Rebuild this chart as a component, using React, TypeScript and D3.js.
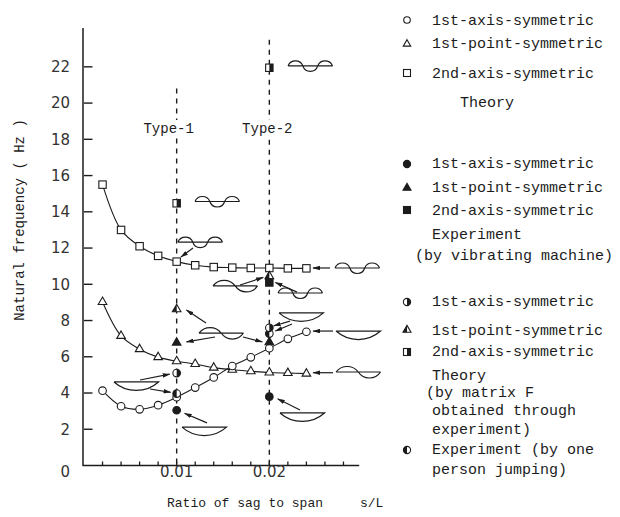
import React from "react";
import * as d3 from "d3";

// Sag-to-span ratios used for the theoretical curves
const sagRatio = [0.002, 0.004, 0.006, 0.008, 0.01, 0.012, 0.014, 0.016, 0.018, 0.02, 0.022, 0.024];
// Theory (Hz)
const axisSymTheory = [4.13, 3.27, 3.1, 3.33, 3.77, 4.3, 4.86, 5.49, 5.97, 6.47, 6.99, 7.38];
const pointSymTheory = [9.02, 7.15, 6.42, 5.98, 5.75, 5.6, 5.4, 5.28, 5.2, 5.13, 5.1, 5.07];
const axis2SymTheory = [15.5, 13.0, 12.1, 11.57, 11.25, 11.05, 10.95, 10.92, 10.9, 10.9, 10.88, 10.88];

// Experiment by vibrating machine
const vibAxisRatio = [0.01, 0.02];
const vibAxisSym = [3.05, 3.8];
const vibPointRatio = [0.01, 0.02];
const vibPointSym = [6.78, 6.8];
const vibAxis2Ratio = [0.02];
const vibAxis2Sym = [10.1];

// Theory by matrix F obtained through experiment
const matAxisRatio = [0.01, 0.02];
const matAxisSym = [5.1, 7.6];
const matPointRatio = [0.01, 0.02];
const matPointSym = [8.62, 10.45];
const matAxis2Ratio = [0.01, 0.02];
const matAxis2Sym = [14.47, 21.95];

// Experiment by one person jumping
const jumpRatio = [0.01, 0.02];
const jumpAxisSym = [3.97, 7.28];

// Axis ticks
const yTickValues = [2, 4, 6, 8, 10, 12, 14, 16, 18, 20, 22];
const xMinorTicks = [0.002, 0.004, 0.006, 0.008, 0.01, 0.012, 0.014, 0.016, 0.018, 0.02, 0.022, 0.024, 0.026, 0.028];
const xLabelTicks = [0.01, 0.02];
const typeRatios = [0.01, 0.02];
const typeNames = ["Type-1", "Type-2"];
const typeLineTop = [20.8, 23.5];

// Mode-shape sketches: kind, left end (s/L), baseline (Hz)
const sketchKind = ["axis2", "axis2", "axis2", "axis2", "point", "axis2", "bowl", "bowl", "point", "point", "bowl", "bowl", "bowl"];
const sketchRatio = [0.02202, 0.01198, 0.01014, 0.02709, 0.01392, 0.02094, 0.02104, 0.0272, 0.01241, 0.0272, 0.00324, 0.01058, 0.02115];
const sketchFreq = [22.05, 14.57, 12.33, 10.9, 9.91, 9.52, 8.42, 7.42, 7.31, 5.16, 4.61, 2.12, 2.9];

// Pointer arrows from sketches to their points (s/L, Hz)
const arrowFromS = [0.01176, 0.02655, 0.01684, 0.02299, 0.02223, 0.02245, 0.02687, 0.01317, 0.01414, 0.01716, 0.02687, 0.00604, 0.00712, 0.01327, 0.02331];
const arrowFromF = [12.0, 10.9, 9.96, 9.57, 7.97, 7.81, 7.42, 7.86, 7.09, 7.09, 5.12, 4.72, 4.22, 2.35, 3.06];
const arrowToS = [0.01045, 0.0247, 0.01935, 0.02065, 0.02045, 0.02065, 0.0247, 0.01105, 0.01105, 0.01925, 0.0247, 0.00925, 0.00935, 0.01085, 0.0209];
const arrowToF = [11.5, 10.9, 10.38, 10.1, 7.7, 7.42, 7.42, 8.58, 6.82, 6.82, 5.12, 5.04, 4.04, 2.88, 3.68];

const INK = "#1c1c1c";
const MONO = "'Liberation Mono', 'Courier New', monospace";
const SANS = "'DejaVu Sans', sans-serif";
const SKETCH_SPAN = 0.0048;
const TYPE_LABEL_SHIFT = [-8, -2];

type Fill = "open" | "full" | "right" | "left";

function circleMark(cx: number, cy: number, fill: Fill, key: string, r = 3.8) {
  return (
    <g key={key}>
      <circle cx={cx} cy={cy} r={r} fill={fill === "full" ? INK : "#fff"} stroke={INK} strokeWidth={1.1} />
      {fill === "right" && (
        <path d={`M${cx},${cy - r} A${r},${r} 0 0 1 ${cx},${cy + r} Z`} fill={INK} />
      )}
      {fill === "left" && (
        <path d={`M${cx},${cy - r} A${r},${r} 0 0 0 ${cx},${cy + r} Z`} fill={INK} />
      )}
    </g>
  );
}

function squareMark(cx: number, cy: number, fill: Fill, key: string, s = 7.4) {
  const h = s / 2;
  return (
    <g key={key}>
      <rect x={cx - h} y={cy - h} width={s} height={s} fill={fill === "full" ? INK : "#fff"} stroke={INK} strokeWidth={1.1} />
      {fill === "right" && <rect x={cx} y={cy - h} width={h} height={s} fill={INK} />}
    </g>
  );
}

function triangleMark(cx: number, cy: number, fill: Fill, key: string, s = 8.6) {
  const hgt = (s * Math.sqrt(3)) / 2;
  const top = cy - (2 * hgt) / 3;
  const bot = cy + hgt / 3;
  const d = `M${cx},${top} L${cx + s / 2},${bot} L${cx - s / 2},${bot} Z`;
  return (
    <g key={key}>
      <path d={d} fill={fill === "full" ? INK : "#fff"} stroke={INK} strokeWidth={1.1} strokeLinejoin="miter" />
      {fill === "left" && <path d={`M${cx},${top} L${cx},${bot} L${cx - s / 2},${bot} Z`} fill={INK} />}
    </g>
  );
}

function arcPath(x0: number, x1: number, y: number, h: number, up: boolean) {
  const w = x1 - x0;
  const r = (w * w) / 4 / (2 * h) + h / 2;
  return `M${x0},${y} A${r},${r} 0 0 ${up ? 1 : 0} ${x1},${y}`;
}

function sketchPath(kind: string, x0: number, x1: number, y: number) {
  const w = x1 - x0;
  if (kind === "bowl") {
    const h = 8.5;
    const r = (w * w) / 4 / (2 * h) + h / 2;
    return `M${x0},${y} L${x1},${y} A${r},${r} 0 0 1 ${x0},${y}`;
  }
  if (kind === "point") {
    const xm = x0 + w / 2;
    return `M${x0},${y} L${x1},${y} ` + arcPath(x0, xm, y, 5.5, true) + " " + arcPath(xm, x1, y, 6, false);
  }
  const a = x0 + w / 3;
  const b = x0 + (2 * w) / 3;
  return (
    `M${x0},${y} L${x1},${y} ` +
    arcPath(x0, a, y, 5, true) +
    " " +
    arcPath(a, b, y, 5.5, false) +
    " " +
    arcPath(b, x1, y, 5, true)
  );
}

export default function App() {
  const x = d3.scaleLinear().domain([0, 0.03]).range([84, 362]);
  const y = d3.scaleLinear().domain([0, 24]).range([465.5, 30.6]);

  const line = d3
    .line<number>()
    .x((_, i) => x(sagRatio[i]))
    .y((d) => y(d))
    .curve(d3.curveCatmullRom.alpha(0.5));

  const legendX = 407;
  const legendTextX = 432;

  return (
    <svg
      width={620}
      height={517}
      viewBox="0 0 620 517"
      style={{ position: "absolute", left: 0, top: 0, background: "#fff" }}
    >
      <defs>
        <marker id="head" viewBox="0 0 10 6" refX="9.5" refY="3" markerWidth="7.5" markerHeight="4.5" orient="auto" markerUnits="userSpaceOnUse">
          <path d="M0,0 L10,3 L0,6 Z" fill={INK} />
        </marker>
      </defs>

      {/* axes */}
      <line x1={x(0) - 1} x2={x(0) - 1} y1={y(24.15)} y2={y(0)} stroke={INK} strokeWidth={1.5} />
      <line x1={x(0) - 1.5} x2={x(0.0297)} y1={y(0)} y2={y(0)} stroke={INK} strokeWidth={1.5} />
      {yTickValues.map((v) => (
        <g key={`yt${v}`}>
          <line x1={x(0)} x2={x(0) + 8.5} y1={y(v)} y2={y(v)} stroke={INK} strokeWidth={1.4} />
          <text x={70} y={y(v)} dy="0.36em" textAnchor="end" fontFamily={SANS} fontSize={15} fill="#333">
            {v}
          </text>
        </g>
      ))}
      <text x={70} y={472} dy="0.36em" textAnchor="end" fontFamily={SANS} fontSize={15} fill="#333">
        0
      </text>
      {xMinorTicks.map((v) => (
        <line key={`xt${v}`} x1={x(v)} x2={x(v)} y1={y(0)} y2={y(0) - 4} stroke={INK} strokeWidth={1.3} />
      ))}
      {xLabelTicks.map((v) => (
        <text key={`xl${v}`} x={x(v)} y={472} dy="0.36em" textAnchor="middle" fontFamily={SANS} fontSize={15} fill="#333">
          {d3.format(".2f")(v)}
        </text>
      ))}

      {/* axis titles */}
      <text
        transform={`translate(19,220) rotate(-90)`}
        textAnchor="middle"
        dy="0.35em"
        fontFamily={MONO}
        fontSize={14}
        fill={INK}
      >
        Natural frequency ( Hz )
      </text>
      <text x={167} y={502} dy="0.35em" fontFamily={MONO} fontSize={13} fill={INK}>
        Ratio of sag to span
      </text>
      <text x={360} y={502} dy="0.35em" fontFamily={MONO} fontSize={13} fill={INK}>
        s/L
      </text>

      {/* bridge types */}
      {typeRatios.map((v, i) => (
        <g key={`type${i}`}>
          <line x1={x(v)} x2={x(v)} y1={y(typeLineTop[i])} y2={y(0)} stroke={INK} strokeWidth={1.4} strokeDasharray="5,5" />
          <rect x={x(v) + TYPE_LABEL_SHIFT[i] - 27} y={120} width={54} height={17} fill="#fff" />
          <text x={x(v) + TYPE_LABEL_SHIFT[i]} y={128} dy="0.35em" textAnchor="middle" fontFamily={MONO} fontSize={14} fill={INK}>
            {typeNames[i]}
          </text>
        </g>
      ))}

      {/* theoretical curves */}
      {[axisSymTheory, pointSymTheory, axis2SymTheory].map((s, i) => (
        <path key={`curve${i}`} d={line(s) || ""} fill="none" stroke={INK} strokeWidth={1.1} />
      ))}
      {axis2SymTheory.map((v, i) => squareMark(x(sagRatio[i]), y(v), "open", `sq${i}`))}
      {pointSymTheory.map((v, i) => triangleMark(x(sagRatio[i]), y(v), "open", `tr${i}`))}
      {axisSymTheory.map((v, i) => circleMark(x(sagRatio[i]), y(v), "open", `ci${i}`))}

      {/* measured / identified values */}
      {matAxis2Sym.map((v, i) => squareMark(x(matAxis2Ratio[i]), y(v), "right", `mq${i}`))}
      {vibAxis2Sym.map((v, i) => squareMark(x(vibAxis2Ratio[i]), y(v), "full", `vq${i}`))}
      {matPointSym.map((v, i) => triangleMark(x(matPointRatio[i]), y(v), "left", `mt${i}`))}
      {vibPointSym.map((v, i) => triangleMark(x(vibPointRatio[i]), y(v), "full", `vt${i}`))}
      {jumpAxisSym.map((v, i) => circleMark(x(jumpRatio[i]), y(v), "left", `jc${i}`))}
      {matAxisSym.map((v, i) => circleMark(x(matAxisRatio[i]), y(v), "right", `mc${i}`))}
      {vibAxisSym.map((v, i) => circleMark(x(vibAxisRatio[i]), y(v), "full", `vc${i}`))}

      {/* mode shape sketches */}
      {sketchKind.map((k, i) => {
        const x0 = x(sketchRatio[i]);
        const x1 = x(sketchRatio[i] + SKETCH_SPAN);
        return (
          <path key={`sk${i}`} d={sketchPath(k, x0, x1, y(sketchFreq[i]))} fill="none" stroke={INK} strokeWidth={1.2} />
        );
      })}
      {arrowFromS.map((s, i) => (
        <line
          key={`ar${i}`}
          x1={x(s)}
          y1={y(arrowFromF[i])}
          x2={x(arrowToS[i])}
          y2={y(arrowToF[i])}
          stroke={INK}
          strokeWidth={1.2}
          markerEnd="url(#head)"
        />
      ))}

      {/* legend */}
      <g fontFamily={MONO} fontSize={15} fill={INK}>
        {circleMark(legendX, 20, "open", "lg1", 3.3)}
        <text x={legendTextX} y={20} dy="0.35em">1st-axis-symmetric</text>
        {triangleMark(legendX, 44, "open", "lg2", 7.5)}
        <text x={legendTextX} y={43} dy="0.35em">1st-point-symmetric</text>
        {squareMark(legendX, 73, "open", "lg3", 7)}
        <text x={legendTextX} y={73} dy="0.35em">2nd-axis-symmetric</text>
        <text x={460} y={102} dy="0.35em">Theory</text>

        {circleMark(legendX, 164, "full", "lg4", 3.6)}
        <text x={legendTextX} y={163} dy="0.35em">1st-axis-symmetric</text>
        {triangleMark(legendX, 188, "full", "lg5", 8)}
        <text x={legendTextX} y={187} dy="0.35em">1st-point-symmetric</text>
        {squareMark(legendX, 210, "full", "lg6", 7)}
        <text x={legendTextX} y={210} dy="0.35em">2nd-axis-symmetric</text>
        <text x={legendTextX} y={234} dy="0.35em">Experiment</text>
        <text x={415} y={255} dy="0.35em">(by vibrating machine)</text>

        {circleMark(legendX, 302, "right", "lg7", 3.6)}
        <text x={legendTextX} y={301} dy="0.35em">1st-axis-symmetric</text>
        {triangleMark(legendX, 330, "left", "lg8", 8)}
        <text x={legendTextX} y={330} dy="0.35em">1st-point-symmetric</text>
        {squareMark(legendX, 352, "right", "lg9", 7)}
        <text x={legendTextX} y={351} dy="0.35em">2nd-axis-symmetric</text>
        <text x={legendTextX} y={375} dy="0.35em">Theory</text>
        <text x={426} y={392} dy="0.35em">(by matrix F</text>
        <text x={legendTextX} y={410} dy="0.35em">obtained through</text>
        <text x={legendTextX} y={429} dy="0.35em">experiment)</text>
        {circleMark(legendX, 450, "left", "lg10", 3.6)}
        <text x={legendTextX} y={449} dy="0.35em">Experiment (by one</text>
        <text x={legendTextX} y={469} dy="0.35em">person jumping)</text>
      </g>
    </svg>
  );
}
